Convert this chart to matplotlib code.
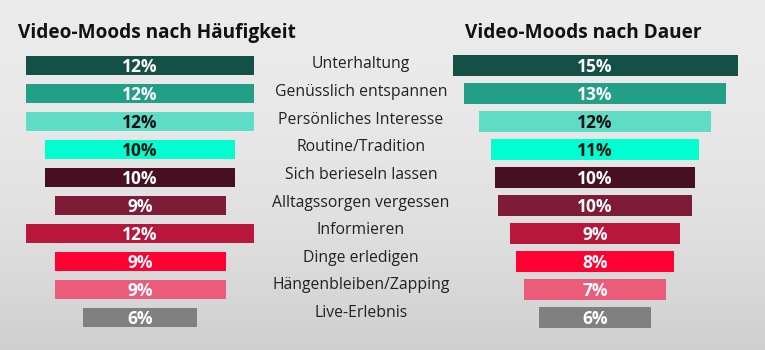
import numpy as np
import matplotlib
matplotlib.use("Agg")
import matplotlib.pyplot as plt

# Daten
moods = ["Unterhaltung", "Genüsslich entspannen", "Persönliches Interesse",
         "Routine/Tradition", "Sich berieseln lassen", "Alltagssorgen vergessen",
         "Informieren", "Dinge erledigen", "Hängenbleiben/Zapping", "Live-Erlebnis"]
haeufigkeit = [12, 12, 12, 10, 10, 9, 12, 9, 9, 6]
haeufigkeit_labels = ["12%", "12%", "12%", "10%", "10%", "9%", "12%", "9%", "9%", "6%"]
dauer = [15.0, 13.8, 12.2, 10.9, 10.5, 10.2, 8.95, 8.3, 7.5, 5.9]
dauer_labels = ["15%", "13%", "12%", "11%", "10%", "10%", "9%", "8%", "7%", "6%"]

colors = ["#145045", "#21a087", "#5fdcc6", "#00ffd0", "#461020",
          "#7e1b36", "#b8163a", "#ff0033", "#eb5c7b", "#808080"]
dark_text = ["#111111" if c in ("#5fdcc6", "#00ffd0") else "white" for c in colors]

W, H = 765, 350
fig = plt.figure(figsize=(W / 100, H / 100), dpi=100)

# Hintergrund: hellgrau, unten etwas dunkler
bg = fig.add_axes([0, 0, 1, 1])
grad = np.linspace(0, 1, 200)[:, None] ** 2
bg.imshow(grad, aspect="auto", cmap=matplotlib.colors.LinearSegmentedColormap.from_list(
    "bg", ["#ebebeb", "#cfcfcf"]), extent=[0, 1, 0, 1], origin="upper")
bg.axis("off")

scale = 19.0  # px pro Prozent
row = 28.0
top_row = 65.7
y0 = top_row - row / 2
ax_h = row * 10


def funnel(x_left, x_right, center, values, labels, bar_h):
    ax = fig.add_axes([x_left / W, 1 - (y0 + ax_h) / H, (x_right - x_left) / W, ax_h / H])
    ax.set_xlim((x_left - center) / scale, (x_right - center) / scale)
    ax.set_ylim(9.5, -0.5)
    pos = np.arange(len(values))
    ax.barh(pos, values, left=[-v / 2 for v in values], height=bar_h, color=colors)
    for i, lab in enumerate(labels):
        ax.text(0, i + 0.04, lab, ha="center", va="center", fontsize=12.5,
                fontweight="bold", color=dark_text[i], family="Open Sans")
    ax.axis("off")
    return ax


funnel(10, 280, 140, haeufigkeit, haeufigkeit_labels, 0.68)
funnel(440, 750, 595, dauer, dauer_labels, 0.74)

for i, m in enumerate(moods):
    fig.text(361 / W, 1 - (64.5 + 27.6 * i) / H, m, ha="center", va="center",
             fontsize=11.3, color="#222222", family="Open Sans")

fig.text(18 / W, 1 - 33 / H, "Video-Moods nach Häufigkeit", ha="left", va="center",
         fontsize=13.7, fontweight="bold", color="#111111", family="Open Sans")
fig.text(583 / W, 1 - 33 / H, "Video-Moods nach Dauer", ha="center", va="center",
         fontsize=13.7, fontweight="bold", color="#111111", family="Open Sans")

fig.savefig("out.png", dpi=100)
